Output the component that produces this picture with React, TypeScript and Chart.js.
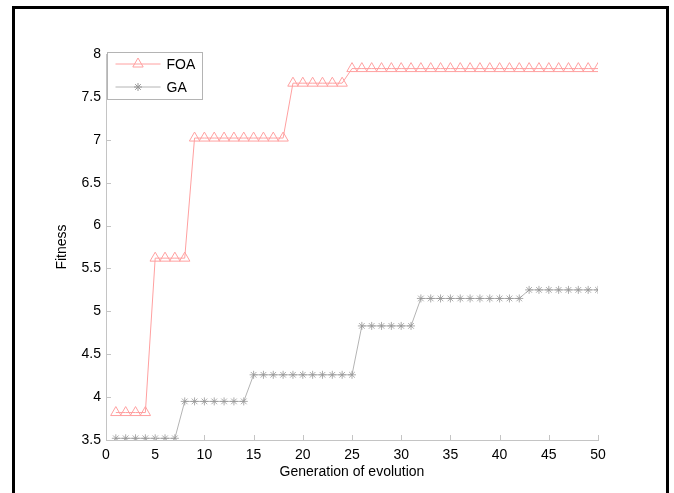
import React, { useEffect, useRef } from 'react';
import { Chart, registerables } from 'chart.js';

Chart.register(...registerables);

const generations = [
  1, 2, 3, 4, 5, 6, 7, 8, 9, 10,
  11, 12, 13, 14, 15, 16, 17, 18, 19, 20,
  21, 22, 23, 24, 25, 26, 27, 28, 29, 30,
  31, 32, 33, 34, 35, 36, 37, 38, 39, 40,
  41, 42, 43, 44, 45, 46, 47, 48, 49, 50,
];

const foaFitness = [
  3.82, 3.82, 3.82, 3.82, 5.62, 5.62, 5.62, 5.62, 7.02, 7.02,
  7.02, 7.02, 7.02, 7.02, 7.02, 7.02, 7.02, 7.02, 7.66, 7.66,
  7.66, 7.66, 7.66, 7.66, 7.83, 7.83, 7.83, 7.83, 7.83, 7.83,
  7.83, 7.83, 7.83, 7.83, 7.83, 7.83, 7.83, 7.83, 7.83, 7.83,
  7.83, 7.83, 7.83, 7.83, 7.83, 7.83, 7.83, 7.83, 7.83, 7.83,
];

const gaFitness = [
  3.52, 3.52, 3.52, 3.52, 3.52, 3.52, 3.52, 3.95, 3.95, 3.95,
  3.95, 3.95, 3.95, 3.95, 4.26, 4.26, 4.26, 4.26, 4.26, 4.26,
  4.26, 4.26, 4.26, 4.26, 4.26, 4.83, 4.83, 4.83, 4.83, 4.83,
  4.83, 5.15, 5.15, 5.15, 5.15, 5.15, 5.15, 5.15, 5.15, 5.15,
  5.15, 5.15, 5.25, 5.25, 5.25, 5.25, 5.25, 5.25, 5.25, 5.25,
];

const xTicks = [0, 5, 10, 15, 20, 25, 30, 35, 40, 45, 50];
const yTicks = [3.5, 4, 4.5, 5, 5.5, 6, 6.5, 7, 7.5, 8];
const seriesNames = ['FOA', 'GA'];
const xTitle = 'Generation of evolution';
const yTitle = 'Fitness';

const FONT = 'Liberation Sans, Arial, sans-serif';
const FOA_COLOR = 'rgb(255,160,160)';
const GA_LINE = 'rgb(180,180,180)';
const GA_MARK = 'rgb(150,150,150)';
const AXIS_COLOR = '#c4c4c4';

function drawTriangle(ctx: CanvasRenderingContext2D, x: number, y: number, r: number) {
  ctx.beginPath();
  for (let i = 0; i < 3; i++) {
    const a = -Math.PI / 2 + (i * 2 * Math.PI) / 3;
    const px = x + Math.cos(a) * r;
    const py = y + Math.sin(a) * r;
    if (i === 0) ctx.moveTo(px, py);
    else ctx.lineTo(px, py);
  }
  ctx.closePath();
  ctx.stroke();
}

function drawStar(ctx: CanvasRenderingContext2D, x: number, y: number, r: number) {
  ctx.beginPath();
  for (let i = 0; i < 4; i++) {
    const a = (i * Math.PI) / 4;
    ctx.moveTo(x - Math.cos(a) * r, y - Math.sin(a) * r);
    ctx.lineTo(x + Math.cos(a) * r, y + Math.sin(a) * r);
  }
  ctx.stroke();
}

const decorPlugin = {
  id: 'decor',
  afterDraw(chart: any) {
    const ctx: CanvasRenderingContext2D = chart.ctx;
    const xs = chart.scales.x;
    const ys = chart.scales.y;
    const area = chart.chartArea;
    ctx.save();
    // inward tick marks
    ctx.strokeStyle = AXIS_COLOR;
    ctx.lineWidth = 1;
    ctx.beginPath();
    xTicks.forEach((v) => {
      const px = Math.round(xs.getPixelForValue(v)) + 0.5;
      ctx.moveTo(px, area.bottom);
      ctx.lineTo(px, area.bottom - 5);
    });
    yTicks.forEach((v) => {
      const py = Math.round(ys.getPixelForValue(v)) + 0.5;
      ctx.moveTo(area.left, py);
      ctx.lineTo(area.left + 5, py);
    });
    ctx.stroke();

    // legend box
    const bx = area.left + 1.5;
    const by = area.top - 1.5;
    const bw = 95;
    const bh = 47;
    ctx.fillStyle = '#ffffff';
    ctx.fillRect(bx, by, bw, bh);
    ctx.strokeStyle = '#b4b4b4';
    ctx.strokeRect(bx, by, bw, bh);

    const rows = [by + 11.5, by + 34.5];
    const lx0 = bx + 8;
    const lx1 = bx + 53;
    const mx = (lx0 + lx1) / 2;
    ctx.strokeStyle = FOA_COLOR;
    ctx.beginPath();
    ctx.moveTo(lx0, rows[0]);
    ctx.lineTo(lx1, rows[0]);
    ctx.stroke();
    drawTriangle(ctx, mx, rows[0], 6);
    ctx.strokeStyle = GA_LINE;
    ctx.beginPath();
    ctx.moveTo(lx0, rows[1]);
    ctx.lineTo(lx1, rows[1]);
    ctx.stroke();
    ctx.strokeStyle = GA_MARK;
    drawStar(ctx, mx, rows[1], 4);

    ctx.fillStyle = '#000';
    ctx.font = `14px ${FONT}`;
    ctx.textAlign = 'left';
    ctx.textBaseline = 'middle';
    ctx.fillText(seriesNames[0], bx + 59, rows[0] + 1);
    ctx.fillText(seriesNames[1], bx + 59, rows[1] + 1);
    ctx.restore();
  },
};

export default function App() {
  const ref = useRef<HTMLCanvasElement | null>(null);

  useEffect(() => {
    if (!ref.current) return;
    const font = { family: FONT, size: 14 };
    const chart = new Chart(ref.current, {
      type: 'line',
      data: {
        datasets: [
          {
            label: seriesNames[0],
            data: generations.map((g, i) => ({ x: g, y: foaFitness[i] })),
            borderColor: FOA_COLOR,
            borderWidth: 1,
            backgroundColor: 'rgba(0,0,0,0)',
            pointStyle: 'triangle',
            pointRadius: 6,
            pointBorderWidth: 1,
            pointBorderColor: FOA_COLOR,
            pointBackgroundColor: 'rgba(0,0,0,0)',
            tension: 0,
          },
          {
            label: seriesNames[1],
            data: generations.map((g, i) => ({ x: g, y: gaFitness[i] })),
            borderColor: GA_LINE,
            borderWidth: 1,
            backgroundColor: 'rgba(0,0,0,0)',
            pointStyle: 'star',
            pointRadius: 4,
            pointBorderWidth: 0.8,
            pointBorderColor: GA_MARK,
            pointBackgroundColor: 'rgba(0,0,0,0)',
            tension: 0,
          },
        ],
      },
      options: {
        animation: false,
        responsive: false,
        maintainAspectRatio: false,
        events: [],
        layout: { padding: { left: 0, top: 54, right: 76, bottom: 0 } },
        plugins: {
          legend: { display: false },
          tooltip: { enabled: false },
        },
        scales: {
          x: {
            type: 'linear',
            min: 0,
            max: 50,
            afterFit: (s: any) => {
              s.height = 53;
            },
            afterBuildTicks: (s: any) => {
              s.ticks = xTicks.map((v) => ({ value: v }));
            },
            ticks: {
              color: '#000',
              font,
              padding: 7,
              maxRotation: 0,
              autoSkip: false,
              callback: (v: any) => String(v),
            },
            grid: { drawOnChartArea: false, drawTicks: false },
            border: { color: AXIS_COLOR, width: 1 },
            title: {
              display: true,
              text: xTitle,
              color: '#000',
              font,
              padding: { top: 0, bottom: 12.6 },
            },
          },
          y: {
            type: 'linear',
            min: 3.5,
            max: 8,
            afterFit: (s: any) => {
              s.width = 106;
            },
            afterBuildTicks: (s: any) => {
              s.ticks = yTicks.map((v) => ({ value: v }));
            },
            ticks: {
              color: '#000',
              font,
              padding: 5,
              autoSkip: false,
              callback: (v: any) => String(v),
            },
            grid: { drawOnChartArea: false, drawTicks: false },
            border: { color: AXIS_COLOR, width: 1 },
            title: {
              display: true,
              text: yTitle,
              color: '#000',
              font,
              padding: { top: 53.6, bottom: 0 },
            },
          },
        },
      },
      plugins: [decorPlugin],
    } as any);
    return () => chart.destroy();
  }, []);

  return (
    <div
      style={{
        position: 'fixed',
        left: 0,
        top: 0,
        width: 674,
        height: 493,
        background: '#fff',
        overflow: 'hidden',
      }}
    >
      <canvas
        ref={ref}
        width={674}
        height={493}
        style={{ position: 'absolute', left: 0, top: 0, width: 674, height: 493 }}
      />
      <div
        style={{
          position: 'absolute',
          left: 12,
          top: 6,
          width: 657,
          height: 520,
          border: '3px solid #000',
          borderBottom: 'none',
          boxSizing: 'border-box',
          pointerEvents: 'none',
        }}
      />
    </div>
  );
}
